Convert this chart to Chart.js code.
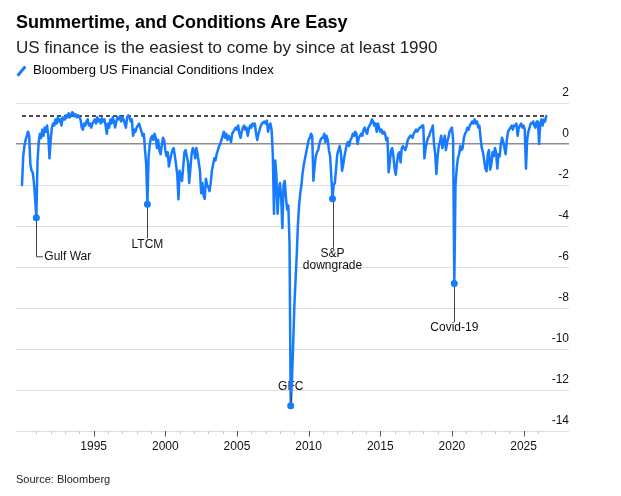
<!DOCTYPE html>
<html>
<head>
<meta charset="utf-8">
<script src="https://cdn.jsdelivr.net/npm/chart.js@4.4.1/dist/chart.umd.min.js"></script>
<style>
html, body { margin: 0; padding: 0; background: #fff; }
#wrap { position: relative; width: 621px; height: 496px; overflow: hidden;
  font-family: "Liberation Sans", Arial, Helvetica, sans-serif; color: #000; }
#chart { position: absolute; left: 0; top: 0; }
.t { position: absolute; left: 16px; white-space: nowrap; line-height: 1; }
#title { top: 13px; font-size: 18px; font-weight: bold; }
#subtitle { top: 39px; font-size: 17px; color: #222; }
#legend { top: 63px; left: 33px; font-size: 13px; }
#swatch { position: absolute; left: 20px; top: 65px; width: 2.5px; height: 12px;
  background: #177bff; transform: rotate(40deg); }
#source { top: 474px; font-size: 11px; color: #222; }
</style>
</head>
<body>
<div id="wrap">
  <canvas id="chart" width="621" height="496"></canvas>
  <div class="t" id="title">Summertime, and Conditions Are Easy</div>
  <div class="t" id="subtitle">US finance is the easiest to come by since at least 1990</div>
  <div id="swatch"></div>
  <div class="t" id="legend">Bloomberg US Financial Conditions Index</div>
  <div class="t" id="source">Source: Bloomberg</div>
</div>
<script>
// monthly readings, Jan 1990 onwards
const startYear = 1990;
const fciMonthly = [
  -2.0, -0.6, -0.1, 0.2, 0.4, 0.6, 0.4, -1.0, -1.3, -1.4, -1.9, -2.7,     // 1990
  -3.6, -0.8, 0.1, 0.5, 0.3, 0.7, 0.4, 0.8, 0.6, 0.9, 0.4, -0.7,          // 1991
  0.2, 0.8, 1.0, 0.9, 1.2, 1.0, 1.3, 1.1, 1.2, 0.9, 1.3, 1.2,             // 1992
  1.2, 1.4, 1.3, 1.5, 1.3, 1.4, 1.55, 1.5, 1.35, 1.45, 1.3, 1.4,          // 1993
  1.3, 1.2, 0.8, 0.7, 1.0, 0.9, 1.1, 1.2, 0.9, 1.0, 0.8, 1.0,             // 1994
  1.1, 1.2, 1.0, 1.3, 1.1, 1.2, 1.0, 1.25, 1.1, 1.2, 0.9, 0.5,            // 1995
  1.0, 0.8, 1.2, 1.0, 1.3, 1.1, 0.8, 1.1, 1.3, 1.2, 1.35, 1.1,            // 1996
  1.3, 1.2, 1.0, 0.8, 1.3, 1.4, 1.3, 1.1, 1.2, 0.4, 0.7, 0.6,             // 1997
  0.8, 0.9, 1.0, 0.8, 0.6, 0.4, 0.5, -0.3, -1.0, -2.94, -0.6, 0.0,        // 1998
  0.3, 0.4, 0.2, 0.5, 0.3, -0.2, 0.2, -0.3, -0.5, -0.1, 0.3, 0.2,         // 1999
  -0.3, -0.6, -0.4, -1.1, -0.8, -0.5, -0.3, -0.2, -0.6, -1.0, -1.5, -2.7, // 2000
  -1.3, -1.6, -1.8, -1.1, -0.4, -0.3, -0.6, -0.9, -1.9, -1.2, -0.5, -0.2, // 2001
  -0.3, -0.7, -0.2, -0.5, -0.9, -1.3, -2.4, -1.9, -2.5, -2.67, -1.7, -2.0,// 2002
  -2.1, -2.3, -1.9, -1.3, -1.0, -0.7, -0.8, -0.5, -0.3, -0.1, 0.0, 0.2,   // 2003
  0.4, 0.6, 0.3, 0.5, 0.2, 0.4, 0.3, 0.1, 0.5, 0.6, 0.7, 0.8,             // 2004
  0.7, 0.9, 0.5, 0.3, 0.6, 0.8, 0.9, 0.7, 0.8, 0.4, 0.7, 0.9,             // 2005
  0.8, 1.0, 0.9, 1.0, 0.5, 0.2, 0.5, 0.7, 0.9, 1.0, 1.05, 1.1,            // 2006
  1.0, 1.14, 0.6, 0.9, 1.0, 0.7, -0.5, -3.4, -0.8, -1.5, -3.4, -2.3,      // 2007
  -1.9, -2.6, -4.1, -2.0, -1.8, -2.6, -3.2, -3.0, -4.8, -12.77, -11.6, -9.9, // 2008
  -8.0, -6.7, -5.5, -4.0, -3.0, -2.4, -2.0, -1.4, -1.0, -0.7, -0.4, -0.1, // 2009
  0.2, 0.3, 0.5, 0.4, -1.79, -1.1, -0.6, -0.4, -0.3, 0.0, 0.2, 0.3,       // 2010
  0.3, 0.5, 0.1, 0.4, 0.2, -0.3, -0.6, -1.6, -2.67, -2.0, -1.9, -1.2,     // 2011
  -0.5, -0.3, -0.1, -0.4, -1.3, -1.0, -0.6, -0.3, 0.0, 0.1, -0.1, 0.2,    // 2012
  0.3, 0.5, 0.4, 0.6, 0.5, 0.0, 0.3, 0.4, 0.5, 0.4, 0.7, 0.8,             // 2013
  0.6, 0.5, 0.8, 0.9, 1.0, 1.2, 1.1, 0.9, 1.0, 0.6, 1.0, 0.8,             // 2014
  0.6, 0.7, 0.5, 0.6, 0.5, 0.2, 0.3, -1.38, -0.9, -0.3, -0.2, -0.6,       // 2015
  -1.2, -1.5, -0.9, -0.5, -0.4, -0.9, -0.2, -0.1, -0.2, -0.3, -0.1, 0.2,  // 2016
  0.3, 0.4, 0.4, 0.3, 0.5, 0.6, 0.7, 0.6, 0.7, 0.8, 0.8, 0.9,             // 2017
  0.9, -0.7, -0.2, 0.1, 0.3, 0.4, 0.6, 0.7, 0.9, 0.0, -0.5, -1.46,        // 2018
  -0.6, -0.1, 0.1, 0.4, -0.2, 0.1, 0.4, -0.3, 0.1, 0.3, 0.6, 0.7,         // 2019
  0.8, 0.2, -6.81, -2.0, -1.2, -0.7, -0.5, -0.1, -0.3, -0.2, 0.3, 0.5,    // 2020
  0.6, 0.8, 0.7, 0.9, 1.0, 1.1, 1.0, 1.2, 1.0, 1.1, 0.8, 0.9,             // 2021
  0.3, -0.2, -0.4, -0.8, -1.2, -1.33, -0.5, -0.3, -1.25, -1.0, -0.4, -0.6,// 2022
  -0.2, -0.4, -1.2, -0.5, -0.6, 0.0, 0.3, 0.1, -0.2, -0.5, 0.2, 0.6,      // 2023
  0.7, 0.8, 0.9, 0.7, 0.9, 0.9, 1.0, 0.4, 0.8, 0.9, 1.0, 0.8,             // 2024
  0.9, 0.7, -1.2, 0.2, 0.6, 0.8, 1.0, 1.0, 1.1, 0.9, 0.8, 1.1,            // 2025
  1.1, 0.0, 1.0, 1.2, 0.9, 1.2, 1.1, 1.37                                 // 2026
];

const eventNames = ["Gulf War", "LTCM", "GFC", "S&P downgrade", "Covid-19"];
const eventMonthIndex = [12, 105, 225, 260, 362];
const recordLevel = 1.37;

const yTickValues = [2, 0, -2, -4, -6, -8, -10, -12, -14];
const xTickYears = [1995, 2000, 2005, 2010, 2015, 2020, 2025];
const minorTickYears = [1991, 2026]; // first and last yearly tick

const BLUE = "#177bff";
const FONT = '"Liberation Sans", Arial, Helvetica, sans-serif';

// label placement for each event, in pixels from its dot
const eventLayout = [
  { lineTo: 39, elbow: 6.5, textDy: 39, align: "left", lines: ["Gulf War"] },
  { lineTo: 34, textDy: 40, align: "center", lines: ["LTCM"] },
  { lineTo: -13, textDy: -19.5, align: "center", lines: ["GFC"] },
  { lineTo: 49, textDy: 55, align: "center", lines: ["S&P", "downgrade"] },
  { lineTo: 38.5, textDy: 44, align: "center", lines: ["Covid-19"] }
];

function monthToYear(i) {
    return startYear + i / 12;
}

const seriesPoints = fciMonthly.map((v, i) => ({ x: monthToYear(i), y: v }));
const lastX = monthToYear(fciMonthly.length - 1);
const eventPoints = eventMonthIndex.map(i => ({ x: monthToYear(i), y: fciMonthly[i] }));

function eventPixel(chart, k) {
    const p = eventPoints[k];
    return { x: chart.scales.x.getPixelForValue(p.x), y: chart.scales.y.getPixelForValue(p.y) };
}

const annotationPlugin = {
    id: "annotations",
    beforeDatasetsDraw(chart) {
        const ctx = chart.ctx;
        ctx.save();
        ctx.fillStyle = "#111";
        ctx.font = "12px " + FONT;
        ctx.textBaseline = "middle";
        eventLayout.forEach((lay, k) => {
            const p = eventPixel(chart, k);
            ctx.textAlign = lay.align;
            const tx = lay.align === "left" ? p.x + lay.elbow + 1.5 : p.x;
            lay.lines.forEach((txt, j) => ctx.fillText(txt, tx, p.y + lay.textDy + j * 12));
        });
        ctx.restore();
    },
    afterDatasetDraw(chart, args) {
        if (args.index !== 0) return;
        const ctx = chart.ctx;
        ctx.save();
        ctx.strokeStyle = "#444";
        ctx.lineWidth = 1;
        eventLayout.forEach((lay, k) => {
            const p = eventPixel(chart, k);
            const x = Math.round(p.x) + 0.5;
            ctx.beginPath();
            ctx.moveTo(x, p.y);
            ctx.lineTo(x, p.y + lay.lineTo);
            if (lay.elbow) ctx.lineTo(x + lay.elbow, p.y + lay.lineTo);
            ctx.stroke();
        });
        ctx.restore();
    },
    afterDraw(chart) {
        const ctx = chart.ctx;
        const xs = chart.scales.x;
        const base = chart.chartArea.bottom;
        ctx.save();
        ctx.lineWidth = 1;
        for (let yr = minorTickYears[0]; yr <= minorTickYears[1]; yr++) {
            const major = xTickYears.includes(yr);
            const px = Math.round(xs.getPixelForValue(yr)) + 0.5;
            ctx.strokeStyle = major ? "#555" : "#c4c4c4";
            ctx.beginPath();
            ctx.moveTo(px, base);
            ctx.lineTo(px, base + (major ? 5.5 : 3));
            ctx.stroke();
        }
        ctx.restore();
    }
};

new Chart(document.getElementById("chart"), {
    type: "line",
    data: {
        datasets: [
            {
                data: seriesPoints,
                borderColor: BLUE,
                borderWidth: 2.5,
                borderJoinStyle: "round",
                borderCapStyle: "round",
                pointRadius: 0,
                tension: 0,
                order: 2
            },
            {
                data: [{ x: startYear, y: recordLevel }, { x: lastX, y: recordLevel }],
                borderColor: "#111",
                borderWidth: 1.5,
                borderDash: [4, 3],
                pointRadius: 0,
                order: 3
            },
            {
                data: eventPoints,
                showLine: false,
                pointRadius: 3.5,
                pointHoverRadius: 3.5,
                pointBackgroundColor: BLUE,
                pointBorderWidth: 0,
                order: 0
            }
        ]
    },
    options: {
        responsive: false,
        animation: false,
        layout: { padding: { left: 16, right: 52, top: 103, bottom: 0 } },
        plugins: { legend: { display: false }, tooltip: { enabled: false } },
        scales: {
            x: {
                type: "linear",
                min: 1989.58,
                max: 2028.17,
                afterBuildTicks: (scale) => { scale.ticks = xTickYears.map(v => ({ value: v })); },
                afterFit: (scale) => { scale.height = 65; },
                grid: { display: false, drawTicks: false },
                border: { display: false },
                ticks: {
                    autoSkip: false,
                    maxRotation: 0,
                    padding: 8,
                    color: "#111",
                    font: { family: FONT, size: 12 },
                    callback: (v) => String(v)
                }
            },
            y: {
                position: "right",
                min: -14,
                max: 2,
                afterBuildTicks: (scale) => { scale.ticks = yTickValues.map(v => ({ value: v })); },
                afterFit: (scale) => { scale.width = 0; },
                grid: {
                    drawTicks: false,
                    color: (c) => (c.tick && c.tick.value === 0 ? "#8c8c8c" : "#dedede"),
                    lineWidth: (c) => (c.tick && c.tick.value === 0 ? 1.5 : 1)
                },
                border: { display: false },
                ticks: {
                    mirror: true,
                    padding: 0,
                    labelOffset: -10,
                    color: "#111",
                    font: { family: FONT, size: 12 },
                    callback: (v) => String(v)
                }
            }
        }
    },
    plugins: [annotationPlugin]
});
</script>
</body>
</html>
